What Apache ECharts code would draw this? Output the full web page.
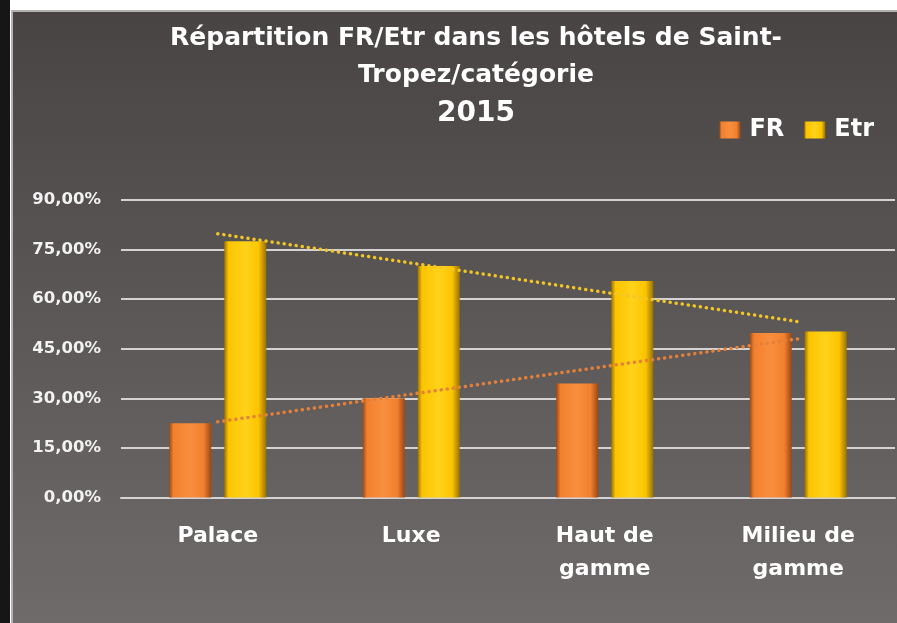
<!DOCTYPE html>
<html>
<head>
<meta charset="utf-8">
<script src="https://cdn.jsdelivr.net/npm/echarts@6/dist/echarts.min.js"></script>
<style>
  html, body { margin: 0; padding: 0; background: #fff; }
  #chart { width: 897px; height: 623px; }
</style>
</head>
<body>
<div id="chart"></div>
<script>
// données (en %)
const categories = ['Palace', 'Luxe', 'Haut de\ngamme', 'Milieu de\ngamme'];
const frValues = [22.5, 30.0, 34.5, 49.8];
const etrValues = [77.5, 70.0, 65.5, 50.2];
// courbes de tendance : valeur au début (Palace) et à la fin (Milieu de gamme)
const frTrend = [22.9, 48.0];
const etrTrend = [79.8, 53.2];
const yTicks = { min: 0, max: 90, interval: 15 };

const FONT = "'DejaVu Sans', sans-serif";

function bevel(dark, base, light) {
  return new echarts.graphic.LinearGradient(0, 0, 1, 0, [
    { offset: 0, color: dark },
    { offset: 0.1, color: base },
    { offset: 0.5, color: light },
    { offset: 0.82, color: base },
    { offset: 1, color: dark }
  ]);
}

const frColor = bevel('#9a4814', '#f2802e', '#f88f3e');
const etrColor = bevel('#9a7200', '#fcc400', '#ffd21a');

const chart = echarts.init(document.getElementById('chart'));

chart.setOption({
  backgroundColor: '#ffffff',
  animation: false,
  graphic: [
    { type: 'rect', z: -10, shape: { x: 0, y: 0, width: 10, height: 623 }, style: { fill: '#161616' } },
    {
      type: 'rect', z: -10,
      shape: { x: 12, y: 11, width: 886, height: 613 },
      style: {
        fill: new echarts.graphic.LinearGradient(0, 0, 0, 1, [
          { offset: 0, color: '#474443' },
          { offset: 1, color: '#6f6b6a' }
        ]),
        stroke: '#b4b1b0',
        lineWidth: 2
      }
    }
  ],
  title: {
    left: 471,
    top: 15,
    textAlign: 'center',
    text: '{a|Répartition FR/Etr dans les hôtels de Saint-}\n{a|Tropez/catégorie}\n{b|2015}',
    textStyle: {
      rich: {
        a: { fontFamily: FONT, fontWeight: 'bold', fontSize: 25, color: '#ffffff', lineHeight: 37 },
        b: { fontFamily: FONT, fontWeight: 'bold', fontSize: 28, color: '#ffffff', lineHeight: 40 }
      }
    }
  },
  legend: {
    data: ['FR', 'Etr'],
    right: 18,
    top: 113,
    icon: 'rect',
    itemWidth: 21,
    itemHeight: 17,
    itemGap: 20,
    textStyle: { fontFamily: FONT, fontWeight: 'bold', fontSize: 24, color: '#ffffff', padding: [0, 0, 0, 4] }
  },
  grid: { left: 121, right: 2, top: 200, height: 297.5 },
  xAxis: {
    type: 'category',
    data: categories,
    axisLine: { lineStyle: { color: '#d4d2d2', width: 2 } },
    axisTick: { show: false },
    axisLabel: {
      margin: 22,
      interval: 0,
      fontFamily: FONT,
      fontWeight: 'bold',
      fontSize: 22,
      lineHeight: 33,
      color: '#ffffff'
    }
  },
  yAxis: {
    type: 'value',
    min: yTicks.min,
    max: yTicks.max,
    interval: yTicks.interval,
    axisLine: { show: false },
    axisTick: { show: false },
    splitLine: { lineStyle: { color: '#d4d2d2', width: 2 } },
    axisLabel: {
      margin: 20,
      fontFamily: FONT,
      fontWeight: 'bold',
      fontSize: 16.5,
      color: '#f2f2f2',
      formatter: v => v.toFixed(2).replace('.', ',') + '%'
    }
  },
  series: [
    {
      name: 'FR',
      type: 'bar',
      data: frValues,
      barWidth: 42,
      barGap: '31%',
      itemStyle: { color: frColor }
    },
    {
      name: 'Etr',
      type: 'bar',
      data: etrValues,
      barWidth: 42,
      itemStyle: { color: etrColor }
    },
    {
      name: 'Tendance FR',
      type: 'line',
      data: [[categories[0], frTrend[0]], [categories[3], frTrend[1]]],
      symbol: 'none',
      z: 5,
      lineStyle: { color: '#e5803a', width: 3.5, type: [0.1, 6], cap: 'round' }
    },
    {
      name: 'Tendance Etr',
      type: 'line',
      data: [[categories[0], etrTrend[0]], [categories[3], etrTrend[1]]],
      symbol: 'none',
      z: 5,
      lineStyle: { color: '#f2c624', width: 3.5, type: [0.1, 6], cap: 'round' }
    }
  ]
});
</script>
</body>
</html>
